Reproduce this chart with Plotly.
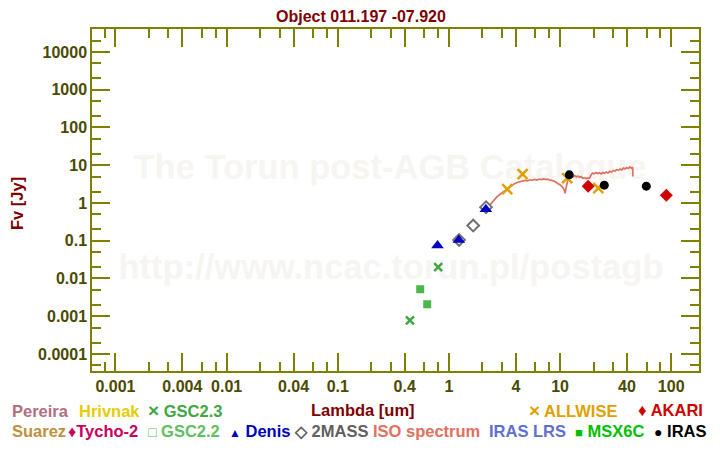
import plotly.graph_objects as go

# ---------------- data ----------------
gsc23_lam = [0.446, 0.80]
gsc23_flux = [0.00078, 0.0199]

gsc22_lam = [0.552, 0.638]
gsc22_flux = [0.00518, 0.00207]

denis_lam = [0.79, 1.228, 2.15]
denis_flux = [0.0742, 0.105, 0.685]

tmass_lam = [1.235, 1.654, 2.159]
tmass_flux = [0.105, 0.252, 0.774]

allwise_lam = [3.35, 4.6, 11.6, 22.1]
allwise_flux = [2.32, 5.8, 4.55, 2.47]

iras_lam = [12.1, 25.0, 59.7]
iras_flux = [5.56, 2.96, 2.79]

akari_lam = [17.9, 90.3]
akari_flux = [2.79, 1.61]

iso_lam = [2.34, 2.45, 2.55, 2.7, 2.85, 3.0, 3.15, 3.3, 3.5, 3.7, 3.9, 4.1, 4.35, 4.6,
           4.85, 5.1, 5.35, 5.6, 5.9, 6.2, 6.5, 6.8, 7.1, 7.4, 7.7, 8.0, 8.3, 8.6, 8.9,
           9.2, 9.5, 9.8, 10.1, 10.4, 10.7, 10.95, 11.1, 11.25, 11.4, 11.6, 11.9, 12.2,
           12.5, 12.8, 13.2, 13.6, 14.0, 14.5, 15.0, 15.5, 16.0, 16.6, 17.2, 17.8, 18.4,
           19.0, 19.6, 20.3, 21.0, 21.8, 22.6, 23.4, 24.2, 25.1, 26.0, 27.0, 28.0, 29.0,
           30.1, 31.2, 32.3, 33.5, 34.7, 35.9, 37.2, 38.5, 39.8, 41.1, 42.5, 43.8, 45.0, 45.2]
iso_flux = [0.89, 1.05, 1.25, 1.45, 1.65, 1.85, 2.05, 2.25, 2.6, 2.95, 3.25, 3.5, 3.7, 3.8,
            3.95, 3.85, 4.1, 4.0, 4.2, 4.05, 4.3, 4.15, 4.35, 4.2, 4.3, 4.1, 4.05, 3.9, 3.75,
            3.55, 3.35, 3.1, 2.95, 2.7, 2.45, 2.1, 1.8, 2.3, 2.75, 3.6, 4.8, 5.6,
            5.2, 5.4, 5.0, 5.3, 4.9, 5.1, 4.8, 5.0, 4.5, 4.7, 4.4, 4.6, 4.5,
            5.5, 6.2, 5.9, 6.4, 6.0, 6.3, 5.9, 6.4, 6.1, 6.6, 6.2, 6.9, 6.6,
            7.3, 7.0, 7.6, 7.3, 7.9, 7.5, 8.4, 8.0, 8.7, 8.2, 9.0, 8.3, 8.8, 5.0]

x_tick_vals = [0.001, 0.004, 0.01, 0.04, 0.1, 0.4, 1, 4, 10, 40, 100]
x_tick_text = ["0.001", "0.004", "0.01", "0.04", "0.1", "0.4", "1", "4", "10", "40", "100"]
y_tick_vals = [0.0001, 0.001, 0.01, 0.1, 1, 10, 100, 1000, 10000]
y_tick_text = ["0.0001", "0.001", "0.01", "0.1", "1", "10", "100", "1000", "10000"]
x_minor_mult = [2, 3, 6, 8]
y_minor_mult = [2, 5]

title_text = "Object 011.197 -07.920"

# ---------------- geometry helpers ----------------
# The page has an 8px body margin, so the figure is made 8px smaller
# and all target pixel positions (in window coords) are shifted by 8.
OFF = 8
W, H = 720 - OFF, 450 - OFF
PLOT_L, PLOT_R, PLOT_T, PLOT_B = 92, 699, 29, 371   # window pixel coords
L = PLOT_L - OFF
T = PLOT_T - OFF
R = W - (PLOT_R - OFF)
B = H - (PLOT_B - OFF)
PW, PH = PLOT_R - PLOT_L, PLOT_B - PLOT_T


def px(x):
    return (x - PLOT_L) / PW


def py(y):
    return (PLOT_B - y) / PH


x_minor = []
for e in range(-5, 3):
    for m in x_minor_mult:
        v = m * 10.0 ** e
        if 0.0006 < v < 175:
            x_minor.append(v)
y_minor = []
for e in range(-5, 5):
    for m in y_minor_mult:
        v = m * 10.0 ** e
        if 3.5e-5 < v < 4.0e4:
            y_minor.append(v)

OLIVE = "#808000"
LABEL = "#4a4a00"
DARKRED = "#800000"
FONT = "Liberation Sans"
FS = 16.5

fig = go.Figure()

fig.add_trace(go.Scatter(x=iso_lam, y=iso_flux, mode="lines",
                         line=dict(color="#e07060", width=1.7), showlegend=False))
fig.add_trace(go.Scatter(x=gsc23_lam, y=gsc23_flux, mode="markers",
                         marker=dict(symbol="x-thin", size=8, line=dict(color="#40a840", width=2.5)),
                         showlegend=False))
fig.add_trace(go.Scatter(x=gsc22_lam, y=gsc22_flux, mode="markers",
                         marker=dict(symbol="square", size=8, color="#4cb84c"),
                         showlegend=False))
fig.add_trace(go.Scatter(x=tmass_lam, y=tmass_flux, mode="markers",
                         marker=dict(symbol="diamond-open", size=9, color="#707070",
                                     line=dict(width=2)),
                         showlegend=False))
fig.add_trace(go.Scatter(x=denis_lam, y=denis_flux, mode="markers",
                         marker=dict(symbol="triangle-up", size=11, color="#0000c0"),
                         showlegend=False))
fig.add_trace(go.Scatter(x=allwise_lam, y=allwise_flux, mode="markers",
                         marker=dict(symbol="x-thin", size=10, line=dict(color="#e0a000", width=2.5)),
                         showlegend=False))
fig.add_trace(go.Scatter(x=iras_lam, y=iras_flux, mode="markers",
                         marker=dict(symbol="circle", size=9, color="black"),
                         showlegend=False))
fig.add_trace(go.Scatter(x=akari_lam, y=akari_flux, mode="markers",
                         marker=dict(symbol="diamond", size=10, color="#d00000"),
                         showlegend=False))

axis_common = dict(
    type="log", showgrid=False, zeroline=False, showline=True, linecolor=OLIVE,
    linewidth=1.5, mirror="ticks", ticks="inside", ticklen=18, tickwidth=1.5,
    tickcolor=OLIVE, tickfont=dict(family=FONT, size=16, color=LABEL, weight="bold"),
)

fig.update_xaxes(range=[-3.211, 2.250], tickvals=x_tick_vals, ticktext=x_tick_text,
                 minor=dict(tickvals=x_minor, ticks="inside", ticklen=9, tickwidth=1.5,
                            tickcolor=OLIVE, showgrid=False),
                 **axis_common)
fig.update_yaxes(range=[-4.452, 4.609], tickvals=y_tick_vals, ticktext=y_tick_text,
                 minor=dict(tickvals=y_minor, ticks="inside", ticklen=9, tickwidth=1.5,
                            tickcolor=OLIVE, showgrid=False),
                 **axis_common)

# watermark as labelled invisible shapes drawn below the data
shapes = []
for text, cx, cy in [("The Torun post-AGB Catalogue", 390, 163),
                     ("http://www.ncac.torun.pl/postagb", 391, 263)]:
    shapes.append(dict(type="rect", xref="paper", yref="paper",
                       x0=px(cx - 50), x1=px(cx + 50), y0=py(cy + 10), y1=py(cy - 10),
                       line=dict(width=0, color="rgba(0,0,0,0)"), fillcolor="rgba(0,0,0,0)",
                       layer="below",
                       label=dict(text=text, textposition="middle center",
                                  font=dict(family=FONT, size=34.5, color="#f7f5f2", weight="bold"))))

ann = []
ann.append(dict(text=title_text, x=px(361), y=py(17), xref="paper", yref="paper", showarrow=False,
                xanchor="center", yanchor="middle",
                font=dict(family=FONT, size=16, color=DARKRED, weight="bold")))
ann.append(dict(text="Lambda [um]", x=px(309), y=py(410), xref="paper", yref="paper", showarrow=False,
                xanchor="left", yanchor="middle",
                font=dict(family=FONT, size=FS, color=DARKRED, weight="bold")))
ann.append(dict(text="Fv [Jy]", x=px(17), y=py(204), xref="paper", yref="paper", showarrow=False,
                xanchor="center", yanchor="middle", textangle=-90,
                font=dict(family=FONT, size=FS, color=DARKRED, weight="bold")))


def sym(ch, size=10):
    return "<span style='font-size:%dpx'>%s</span>" % (size, ch)


legend_items = [
    (10, 410.5, "Pereira", "#b07080"),
    (77, 410.5, "Hrivnak", "#e6cc00"),
    (146, 410.5, sym("×", 19) + " GSC2.3", "#40a840"),
    (527, 410.5, sym("×", 19) + " ALLWISE", "#e0a000"),
    (636, 410.5, sym("♦", 17) + " AKARI", "#d00000"),
    (10, 430.5, "Suarez", "#c09040"),
    (66, 430.5, sym("♦", 16) + "Tycho-2", "#c80060"),
    (146, 430.5, sym("□", 14) + " GSC2.2", "#60c060"),
    (227, 430.5, sym("▲", 12) + " Denis", "#0000c0"),
    (292, 430.5, sym("◇", 16) + " 2MASS", "#606060"),
    (371, 430.5, "ISO spectrum", "#e07060"),
    (487, 430.5, "IRAS LRS", "#6070d0"),
    (573, 430.5, sym("■", 13) + " MSX6C", "#00c000"),
    (652, 430.5, sym("●", 14) + " IRAS", "#000000"),
]
for x, y, t, c in legend_items:
    ann.append(dict(text=t, x=px(x), y=py(y), xref="paper", yref="paper", showarrow=False,
                    xanchor="left", yanchor="middle",
                    font=dict(family=FONT, size=FS, color=c, weight="bold")))

fig.update_layout(width=W, height=H, autosize=False,
                  margin=dict(l=L, r=R, t=T, b=B, pad=0),
                  paper_bgcolor="white", plot_bgcolor="white",
                  annotations=ann, shapes=shapes, showlegend=False)

fig.write_html("out.html")
